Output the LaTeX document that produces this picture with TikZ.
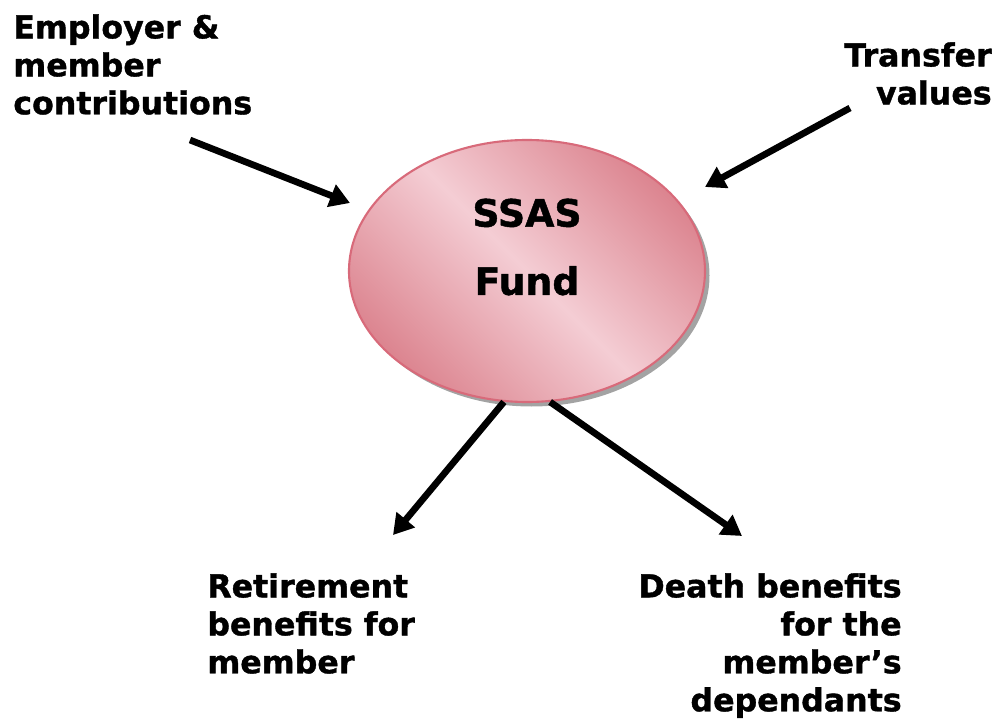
\documentclass[tikz,border=0pt]{standalone}
\usepackage{fontspec}
\setmainfont[BoldFeatures={FakeBold=1.2}]{DejaVu Sans}
\usepackage{tikz}
\usetikzlibrary{arrows.meta, positioning, shapes.geometric, shadows}

\definecolor{fundlight}{HTML}{F4CDD4}
\definecolor{funddark}{HTML}{DC8590}
\definecolor{fundedge}{HTML}{D86A7A}

\begin{document}
\begin{tikzpicture}[
    fund/.style={ellipse, draw=fundedge, line width=1.2pt, minimum width=7.12cm, minimum height=5.24cm,
        top color=funddark, bottom color=funddark, middle color=fundlight, shading angle=-45,
        drop shadow={shadow xshift=0.09cm, shadow yshift=-0.09cm, fill=black!60, opacity=0.6}},
    txt/.style={font=\fontsize{18}{21.6}\selectfont\bfseries, inner sep=0pt},
    bigtxt/.style={font=\fontsize{21.5}{25.8}\selectfont\bfseries, inner sep=0pt},
    flow/.style={-{Triangle[length=0.4cm, width=0.46cm]}, line width=3.8pt, black}
    ]
    \useasboundingbox (0,0) rectangle (20,14.48);

    % Fund
    \node[fund] (fund) at (10.54,9.06) {};
    \node[bigtxt, align=center] (fundtxt) at (10.54,9.54) {SSAS\\[13pt]Fund};

    % Inflows
    \node[txt, align=left, anchor=north west] (contrib) at (0.26,14.20) {Employer \&\\member\\contributions};
    \node[txt, align=right, anchor=north east] (transfer) at (19.84,13.64) {Transfer\\values};

    \coordinate (contribstart) at (3.80,11.68);
    \coordinate (contribend) at (7.00,10.42);
    \coordinate (transferstart) at (17.00,12.32);
    \coordinate (transferend) at (14.10,10.74);

    \draw[flow] (contribstart) -- (contribend);
    \draw[flow] (transferstart) -- (transferend);

    % Outflows
    \node[txt, align=left, anchor=north west] (retire) at (4.14,3.02) {Retirement\\benefits for\\member};
    \node[txt, align=right, anchor=north east] (death) at (18.04,3.02) {Death benefits\\for the\\member’s\\dependants};

    \coordinate (retireend) at (7.86,3.78);
    \coordinate (deathend) at (14.84,3.76);

    \draw[flow] (fund.260) -- (retireend);
    \draw[flow] (fund.280) -- (deathend);
\end{tikzpicture}
\end{document}
